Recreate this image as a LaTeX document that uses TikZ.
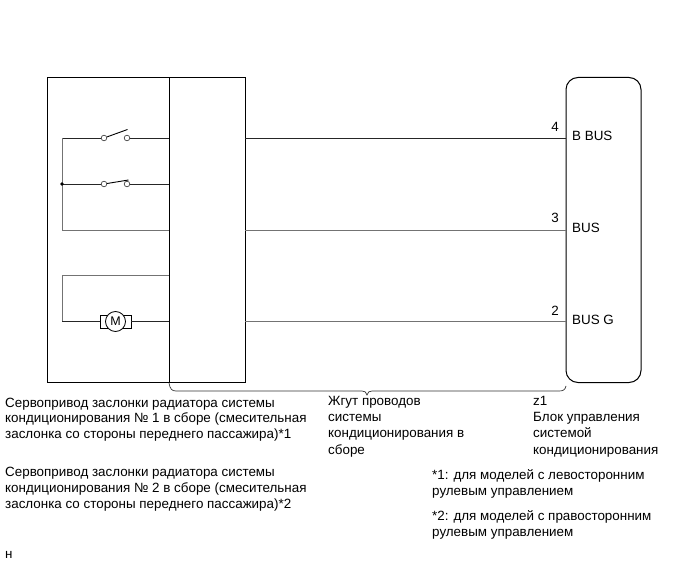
\documentclass[tikz,border=0pt]{standalone}
\usepackage{fontspec}
\setmainfont{Liberation Sans}
\begin{document}
\begin{tikzpicture}[x=1pt,y=-1pt,
  box/.style={draw=black,line width=1pt},
  wire/.style={draw=black!85,line width=0.7pt},
  wireg/.style={draw=black!55,line width=0.8pt},
  contact/.style={circle,draw=black!80,fill=white,line width=0.6pt,minimum size=5.6pt,inner sep=0pt},
  lbl/.style={anchor=base west,inner sep=0pt,font=\fontsize{13.4}{15}\selectfont},
  num/.style={anchor=base,inner sep=0pt,font=\fontsize{13.4}{15}\selectfont}]
\useasboundingbox (0,0) rectangle (691,564);
\fill[white] (0,0) rectangle (691,564);
% boxes
\node[box,draw,minimum width=198pt,minimum height=305pt,inner sep=0pt,anchor=north west] (outer) at (47,77) {};
\node[box,draw,minimum width=76pt,minimum height=305pt,inner sep=0pt,anchor=north west] (inner) at (169,77) {};
\node[draw=black,line width=1pt,rounded corners=12pt,minimum width=75pt,minimum height=305pt,inner sep=0pt,anchor=north west] (ecu) at (565.5,77) {};
% coordinates
\coordinate (l1) at (62,138);
\coordinate (l2) at (62,184);
\coordinate (l3) at (62,230);
\coordinate (l4) at (62,275.5);
\coordinate (l5) at (62,321.5);
\coordinate (r1) at (169,138);
\coordinate (r2) at (169,184);
\coordinate (r3) at (169,230);
\coordinate (r4) at (169,275.5);
\coordinate (r5) at (169,321.5);
\coordinate (h1) at (245,138);
\coordinate (h3) at (245,230);
\coordinate (h5) at (245,321.5);
\coordinate (e1) at (565.5,138);
\coordinate (e3) at (565.5,230);
\coordinate (e5) at (565.5,321.5);
% switches
\node[contact] (s1a) at (104,138) {};
\node[contact] (s1b) at (127,138) {};
\node[contact] (s2a) at (104,184) {};
\node[contact] (s2b) at (127,184) {};
% wires
\draw[wire] (l1) -- (s1a);
\draw[wire] (s1b) -- (r1);
\draw[wire] (l2) -- (s2a);
\draw[wire] (s2b) -- (r2);
\draw[wireg] (l1) -- (l3) -- (r3);
\draw[wireg] (l5) -- (l4) -- (r4);
\draw[wire] (h1) -- (e1);
\draw[wireg] (h3) -- (e3);
\draw[wireg] (h5) -- (e5);
\fill[black] (l2) circle (1.9pt);
% blades
\coordinate (b1) at (127.5,129.5);
\coordinate (b2) at (128.5,180);
\draw[black,line width=0.9pt] (s1a) -- (b1);
\draw[black,line width=0.9pt] (s2a) -- (b2);
% motor
\node[draw=black,line width=0.8pt,fill=white,minimum width=31pt,minimum height=13pt,inner sep=0pt] (mb) at (115.5,321.5) {};
\draw[wire] (l5) -- (mb.west);
\draw[wire] (mb.east) -- (r5);
\node[circle,draw=black,line width=0.8pt,fill=white,minimum size=20pt,inner sep=0pt,font=\fontsize{12.5}{12.5}\selectfont] (motor) at (115.5,321.5) {M};
% numbers
\node[num] (n4) at (555,132) {4};
\node[num] (n3) at (555,223) {3};
\node[num] (n2) at (555,315) {2};
% pins
\node[lbl] (p1) at (572,140.5) {B BUS};
\node[lbl] (p2) at (572,232.5) {BUS};
\node[lbl] (p3) at (572,324.5) {BUS G};
% brace
\coordinate (bl) at (169,383);
\coordinate (bm) at (367,395);
\coordinate (br) at (566,386);
\draw[black!80,line width=0.7pt] (bl) .. controls (170,389) and (172,391) .. (176,391) -- (362,391) .. controls (365,391) and (366,392) .. (bm) .. controls (368,392) and (369,391) .. (372,391) -- (559,391) .. controls (563,391) and (565,390) .. (br);
% texts
\node[lbl,anchor=base west,align=left,font=\fontsize{13.4}{15.3}\selectfont] (t1) at (5,438) {Сервопривод заслонки радиатора системы\\кондиционирования № 1 в сборе (смесительная\\заслонка со стороны переднего пассажира)*1};
\node[lbl,anchor=base west,align=left,font=\fontsize{13.4}{15.8}\selectfont] (t2) at (5,508) {Сервопривод заслонки радиатора системы\\кондиционирования № 2 в сборе (смесительная\\заслонка со стороны переднего пассажира)*2};
\node[lbl,anchor=base west,align=left,font=\fontsize{13.4}{16.3}\selectfont] (t3) at (328,454) {Жгут проводов\\системы\\кондиционирования в\\сборе};
\node[lbl,anchor=base west,align=left,font=\fontsize{13.4}{16.3}\selectfont] (t4) at (533,454) {z1\\Блок управления\\системой\\кондиционирования};
\node[lbl,anchor=base west,align=left,font=\fontsize{13.4}{16}\selectfont] (t5) at (432,495) {*1: для моделей с левосторонним\\рулевым управлением};
\node[lbl,anchor=base west,align=left,font=\fontsize{13.4}{16}\selectfont] (t6) at (432,536) {*2: для моделей с правосторонним\\рулевым управлением};
\node[lbl] (t7) at (5,558) {н};
\end{tikzpicture}
\end{document}
